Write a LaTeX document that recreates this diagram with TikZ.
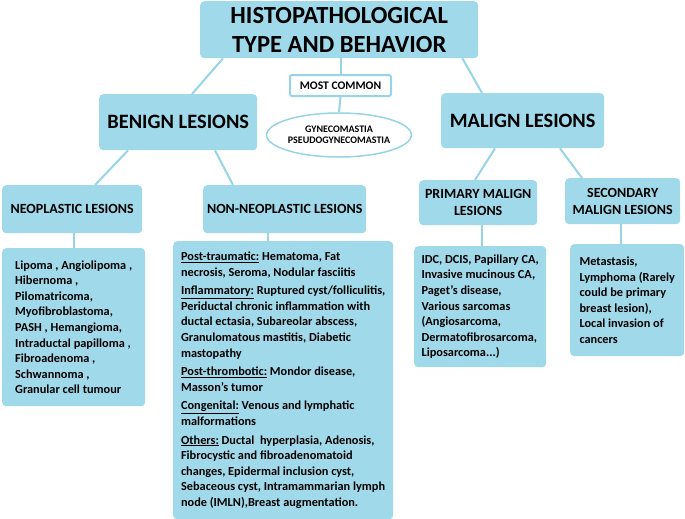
\documentclass[tikz,border=0pt]{standalone}
\usepackage{fontspec}
\usetikzlibrary{shapes.geometric}
\setmainfont{Carlito}
\definecolor{boxfill}{RGB}{160,218,234}
\definecolor{linkc}{RGB}{150,212,230}
\begin{document}
\begin{tikzpicture}[x=1pt,y=-1pt,
  box/.style={fill=boxfill, rounded corners=4pt, inner sep=0pt, font=\bfseries, align=center, anchor=north west},
  listbox/.style={box, align=left, font=\bfseries\fontsize{12.3}{15.6}\selectfont},
  headbox/.style={box, font=\bfseries\fontsize{14}{17}\selectfont},
  bigbox/.style={box, font=\bfseries\fontsize{20.4}{22}\selectfont},
  link/.style={draw=linkc, line width=2pt},
]
\useasboundingbox (0,0) rectangle (685,519);

\node[box, minimum width=278pt, minimum height=57pt, font=\bfseries\fontsize{24.6}{29}\selectfont] (top) at (200,1) {HISTOPATHOLOGICAL\\TYPE AND BEHAVIOR};

\node[box, fill=white, draw=linkc, line width=2pt, rounded corners=2pt, minimum width=101pt, minimum height=21pt, font=\bfseries\fontsize{11.6}{13}\selectfont] (most) at (289,74) {MOST COMMON};

\node[draw=linkc, line width=1.5pt, ellipse, minimum width=123pt, minimum height=44pt, inner sep=0pt, align=center, font=\bfseries\fontsize{10}{11.5}\selectfont] (gyn) at (339,135) {GYNECOMASTIA\\PSEUDOGYNECOMASTIA};

\node[bigbox, minimum width=158pt, minimum height=56pt] (benign) at (99,94) {BENIGN LESIONS};
\node[bigbox, minimum width=163pt, minimum height=55pt] (malign) at (441,93) {MALIGN LESIONS};

\node[headbox, minimum width=140pt, minimum height=48pt] (neo) at (2,185) {NEOPLASTIC LESIONS};
\node[headbox, minimum width=163pt, minimum height=48pt] (nonneo) at (203,185) {NON-NEOPLASTIC LESIONS};
\node[headbox, minimum width=118pt, minimum height=45pt] (prim) at (419,180) {PRIMARY MALIGN\\LESIONS};
\node[headbox, minimum width=115pt, minimum height=46pt] (sec) at (565,178) {SECONDARY\\MALIGN LESIONS};

\node[listbox, minimum width=143pt, minimum height=158pt] (neoc) at (2,248) {Lipoma , Angiolipoma ,\\Hibernoma ,\\Pilomatricoma,\\Myofibroblastoma,\\PASH , Hemangioma,\\Intraductal papilloma ,\\Fibroadenoma ,\\Schwannoma ,\\Granular cell tumour};

\node[listbox, minimum width=220pt, minimum height=278pt] (nonneoc) at (173,241) {\underline{Post-traumatic:} Hematoma, Fat\\necrosis, Seroma, Nodular fasciitis\\[3pt]
\underline{Inflammatory:} Ruptured cyst/folliculitis,\\Periductal chronic inflammation with\\ductal ectasia, Subareolar abscess,\\Granulomatous mastitis, Diabetic\\mastopathy\\[3pt]
\underline{Post-thrombotic:} Mondor disease,\\Masson's tumor\\[3pt]
\underline{Congenital:} Venous and lymphatic\\malformations\\[3pt]
\underline{Others:} Ductal\ \ hyperplasia, Adenosis,\\Fibrocystic and fibroadenomatoid\\changes, Epidermal inclusion cyst,\\Sebaceous cyst, Intramammarian lymph\\node (IMLN),Breast augmentation.};

\node[listbox, minimum width=132pt, minimum height=121pt] (primc) at (414,246) {IDC, DCIS, Papillary CA,\\Invasive mucinous CA,\\Paget’s disease,\\Various sarcomas\\(Angiosarcoma,\\Dermatofibrosarcoma,\\Liposarcoma...)};

\node[listbox, minimum width=114pt, minimum height=112pt] (secc) at (570,244) {Metastasis,\\Lymphoma (Rarely\\could be primary\\breast lesion),\\Local invasion of\\cancers};

% connectors
\draw[link] ([xshift=23pt]top.south west) -- ([xshift=93pt]benign.north west);
\draw[link] ([xshift=-16pt]top.south east) -- ([xshift=41pt]malign.north west);
\draw[link] (most.north) -- (most.north |- top.south);
\draw[link] (most.south) -- (gyn.north);
\draw[link] ([xshift=29pt]benign.south west) -- ([xshift=93pt]neo.north west);
\draw[link] ([xshift=116pt]benign.south west) -- ([xshift=30pt]nonneo.north west);
\draw[link] ([xshift=54pt]malign.south west) -- ([xshift=56pt]prim.north west);
\draw[link] ([xshift=119pt]malign.south west) -- ([xshift=17pt]sec.north west);
\draw[link] (neo.south -| neoc.north) -- (neoc.north);
\draw[link] ([xshift=65pt]nonneo.south west) -- ([xshift=65pt]nonneo.south west |- nonneoc.north);
\draw[link] ([xshift=63pt]prim.south west) -- ([xshift=63pt]prim.south west |- primc.north);
\draw[link] ([xshift=56pt]sec.south west) -- ([xshift=56pt]sec.south west |- secc.north);
\end{tikzpicture}
\end{document}
